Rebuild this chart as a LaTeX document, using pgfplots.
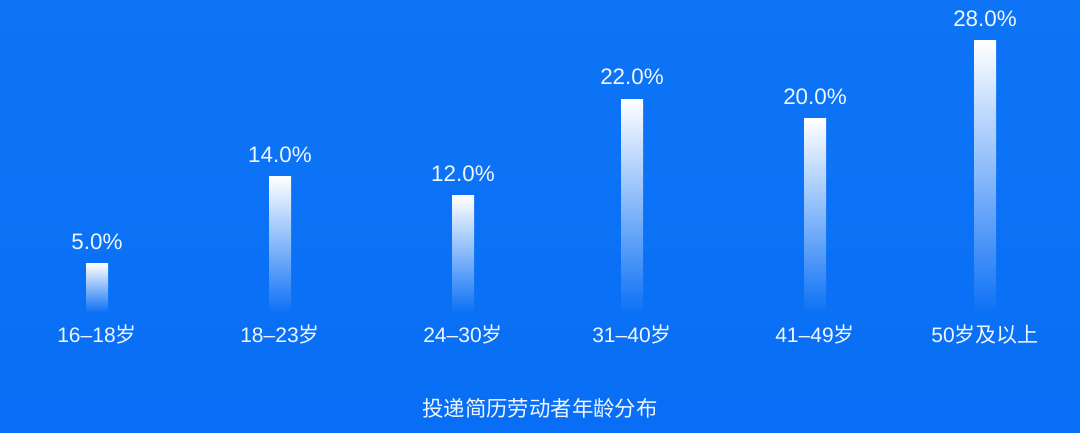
\documentclass[border=0pt]{standalone}
\usepackage{pgfplots}
\pgfplotsset{compat=1.18}
\usepackage{fontspec}
\setmainfont{Liberation Sans}
\newfontfamily\cjk{Noto Sans CJK SC}
\definecolor{bgblue}{RGB}{8,110,245}
\definecolor{bgtop}{RGB}{14,116,246}
\definecolor{labelwhite}{RGB}{240,246,255}
\pgfplotsset{
    agebar/.style={ybar, bar width=11pt, bar shift=0pt, draw=none,
        top color=white, bottom color=bgblue!98!white},
}
\begin{document}
\begin{tikzpicture}
\begin{axis}[
    scale only axis,
    width=540pt, height=216.5pt,
    xmin=0, xmax=1080,
    ymin=-12.5, ymax=32.23,
    axis x line=middle,
    axis y line=none,
    x axis line style={draw=none},
    major tick length=0pt,
    xtick={97,280,463,632,815,985},
    xticklabels={16–18{\cjk 岁}, 18–23{\cjk 岁}, 24–30{\cjk 岁}, 31–40{\cjk 岁}, 41–49{\cjk 岁}, 50{\cjk 岁及以上}},
    xticklabel style={font=\fontsize{10.5pt}{12pt}\selectfont, text=labelwhite, yshift=-3pt},
    ytick=\empty,
    axis background/.style={shade, top color=bgtop, bottom color=bgblue},
    /pgf/number format/assume math mode=true,
    title={\cjk 投递简历劳动者年龄分布},
    title style={at={(0.5,0.03)}, anchor=center, text=labelwhite, font=\fontsize{10.7pt}{12pt}\selectfont},
    nodes near coords={\pgfmathprintnumber[fixed,fixed zerofill,precision=1]{\pgfplotspointmeta}\%},
    nodes near coords style={text=labelwhite, font=\fontsize{11.2pt}{13pt}\selectfont, anchor=south, yshift=3.5pt},
    clip=false,
]
\addplot[agebar] coordinates {(97,5.0)};
\addplot[agebar] coordinates {(280,14.0)};
\addplot[agebar] coordinates {(463,12.0)};
\addplot[agebar] coordinates {(632,22.0)};
\addplot[agebar] coordinates {(815,20.0)};
\addplot[agebar] coordinates {(985,28.0)};
\end{axis}
\pgfresetboundingbox
\useasboundingbox (current axis.south west) rectangle (current axis.north east);
\end{tikzpicture}
\end{document}
